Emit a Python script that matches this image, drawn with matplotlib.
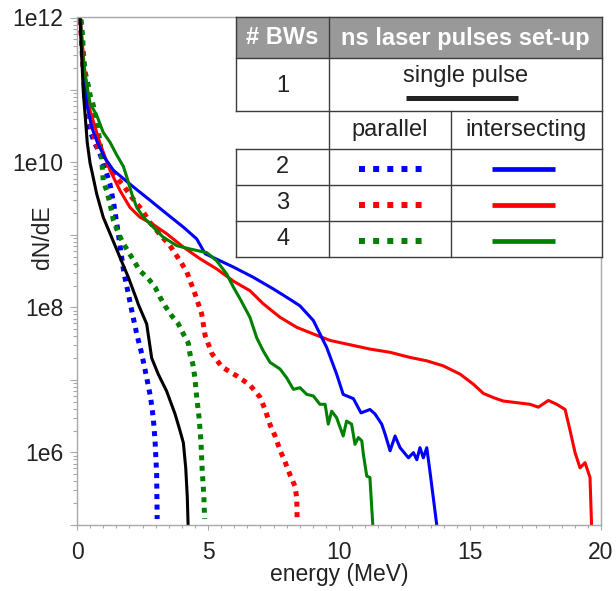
import math
import matplotlib
matplotlib.use("Agg")
import matplotlib.pyplot as plt
from matplotlib.ticker import FixedLocator, FuncFormatter, MultipleLocator, LogLocator, NullFormatter
from matplotlib.patches import Rectangle

plt.rcParams['font.family'] = ['Liberation Sans', 'DejaVu Sans']

# ---- spectra: energy (MeV), dN/dE ----
# 1 BW, single pulse
e_single = [0.10, 0.24, 0.31, 0.39, 0.50, 0.56, 0.75, 1.00, 1.32, 1.64, 1.96, 2.27, 2.34,
            2.66, 2.85, 3.10, 3.42, 3.74, 3.93, 4.06, 4.15, 4.21, 4.24]
n_single = [1.3e12, 9.4e10, 4.5e10, 1.9e10, 9.7e9, 7.8e9, 3.7e9, 1.76e9, 9.3e8, 4.9e8, 2.6e8,
            1.3e8, 1.1e8, 5.9e7, 2.0e7, 1.2e7, 7.0e6, 3.4e6, 2.0e6, 1.35e6, 6.1e5, 2.4e5, 1.0e5]

# 2 BWs, parallel
e_par2 = [0.10, 0.18, 0.22, 0.27, 0.31, 0.39, 0.52, 0.69, 0.85, 1.07, 1.26, 1.41, 1.56, 1.68,
          1.79, 1.95, 2.09, 2.28, 2.47, 2.66, 2.81, 2.91, 2.98, 3.04, 3.06]
n_par2 = [1.3e12, 5.7e11, 2.7e11, 1.46e11, 7.2e10, 3.6e10, 2.6e10, 1.8e10, 1.4e10, 8.3e9, 5.0e9,
          2.6e9, 1.15e9, 5.7e8, 3.0e8, 1.6e8, 9.0e7, 4.3e7, 2.3e7, 1.07e7, 5.7e6, 3.0e6, 1.44e6,
          5.0e5, 1.2e5]

# 3 BWs, parallel
e_par3 = [0.10, 0.19, 0.31, 0.56, 0.81, 1.13, 1.45, 1.77, 2.09, 2.47, 2.79, 3.17, 3.55, 3.93,
          4.19, 4.50, 4.76, 4.89, 5.15, 5.53, 6.10, 6.60, 6.98, 7.18, 7.37, 7.56, 7.75, 7.94,
          8.13, 8.32, 8.39, 8.40]
n_par3 = [1.3e12, 3.5e11, 8.0e10, 2.95e10, 1.47e10, 1.0e10, 6.6e9, 4.8e9, 3.3e9, 2.24e9, 1.48e9,
          1.01e9, 7.1e8, 4.4e8, 3.1e8, 1.55e8, 8.1e7, 4.1e7, 2.3e7, 1.51e7, 1.13e7, 8.5e6, 5.8e6,
          3.9e6, 2.4e6, 1.68e6, 1.07e6, 7.4e5, 4.9e5, 3.4e5, 2.3e5, 1.2e5]

# 4 BWs, parallel
e_par4 = [0.10, 0.15, 0.22, 0.24, 0.31, 0.43, 0.50, 0.62, 0.75, 0.88, 0.94, 1.00, 1.13, 1.26,
          1.39, 1.58, 1.77, 2.09, 2.40, 2.72, 2.98, 3.17, 3.36, 3.61, 3.87, 4.06, 4.25, 4.31,
          4.42, 4.50, 4.57, 4.66, 4.73, 4.78, 4.84, 4.87]
n_par4 = [1.3e12, 9.7e11, 5.2e11, 3.4e11, 1.78e11, 1.16e11, 8.5e10, 6.2e10, 3.6e10, 1.9e10,
          1.13e10, 5.6e9, 4.1e9, 2.7e9, 1.58e9, 1.05e9, 7.6e8, 4.9e8, 3.2e8, 2.5e8, 1.9e8, 1.38e8,
          1.05e8, 7.7e7, 5.9e7, 4.3e7, 3.2e7, 2.3e7, 1.66e7, 1.07e7, 5.7e6, 3.0e6, 1.44e6, 5.5e5,
          2.6e5, 1.2e5]

# 2 BWs, intersecting
e_int2 = [0.10, 0.23, 0.38, 0.57, 0.76, 1.07, 1.39, 2.15, 2.79, 3.42, 4.06, 4.57, 4.89, 5.46,
          5.97, 6.73, 7.49, 8.13, 8.51, 9.02, 9.53, 9.91, 10.16, 10.55, 10.84, 11.18, 11.37,
          11.63, 11.76, 11.95, 12.14, 12.33, 12.65, 12.84, 12.97, 13.09, 13.22, 13.35, 13.47,
          13.60, 13.73]
n_int2 = [1.3e12, 1.88e11, 6.2e10, 3.0e10, 1.96e10, 1.14e10, 7.8e9, 4.6e9, 3.0e9, 1.96e9, 1.28e9,
          8.8e8, 5.5e8, 4.4e8, 3.6e8, 2.6e8, 1.8e8, 1.29e8, 1.05e8, 6.6e7, 2.8e7, 1.2e7, 6.3e6,
          5.5e6, 3.5e6, 3.9e6, 3.4e6, 2.45e6, 1.78e6, 1.05e6, 1.68e6, 1.16e6, 8.4e5, 9.9e5, 7.9e5,
          1.16e6, 8.4e5, 1.16e6, 5.5e5, 2.35e5, 1.0e5]

# 3 BWs, intersecting
e_int3 = [0.10, 0.27, 0.50, 0.88, 1.26, 1.64, 2.02, 2.40, 2.91, 3.42, 4.06, 4.69, 5.33, 5.97,
          6.60, 7.11, 7.75, 8.39, 9.02, 9.66, 10.42, 11.18, 11.95, 12.71, 13.35, 13.98, 14.62,
          15.13, 15.51, 15.89, 16.27, 16.78, 17.29, 17.61, 17.99, 18.31, 18.63, 18.82, 19.01,
          19.20, 19.39, 19.58, 19.64]
n_int3 = [1.3e12, 2.2e11, 5.2e10, 1.82e10, 7.8e9, 4.1e9, 2.4e9, 1.76e9, 1.39e9, 1.04e9, 6.8e8,
          4.7e8, 3.4e8, 2.3e8, 1.7e8, 1.12e8, 7.3e7, 5.3e7, 4.3e7, 3.5e7, 3.05e7, 2.66e7, 2.4e7,
          2.04e7, 1.83e7, 1.56e7, 1.2e7, 8.7e6, 6.5e6, 5.7e6, 5.1e6, 4.85e6, 4.6e6, 4.2e6, 5.2e6,
          4.6e6, 3.9e6, 2.0e6, 9.9e5, 6.1e5, 7.2e5, 4.5e5, 1.0e5]

# 4 BWs, intersecting
e_int4 = [0.10, 0.27, 0.50, 0.75, 1.00, 1.26, 1.52, 1.77, 1.90, 2.09, 2.28, 2.53, 2.91, 3.29,
          3.81, 4.31, 4.95, 5.33, 5.71, 5.97, 6.22, 6.60, 6.86, 7.11, 7.37, 7.75, 8.00, 8.26,
          8.51, 8.77, 9.02, 9.27, 9.47, 9.59, 9.72, 9.91, 10.16, 10.29, 10.48, 10.61, 10.74,
          10.87, 10.93, 11.06, 11.18, 11.25, 11.29]
n_int4 = [1.3e12, 1.9e11, 6.5e10, 4.5e10, 2.6e10, 1.9e10, 1.26e10, 8.8e9, 6.3e9, 3.7e9, 2.4e9,
          1.76e9, 1.28e9, 9.3e8, 7.1e8, 6.4e8, 5.7e8, 4.4e8, 2.9e8, 1.9e8, 1.32e8, 7.3e7, 3.8e7,
          2.5e7, 1.74e7, 1.41e7, 1.07e7, 7.4e6, 7.8e6, 6.3e6, 6.0e6, 4.6e6, 4.6e6, 2.45e6, 3.7e6,
          3.0e6, 1.68e6, 2.7e6, 2.45e6, 1.29e6, 1.6e6, 1.44e6, 9.4e5, 4.7e5, 4.5e5, 1.7e5, 1.0e5]

BLUE, RED, GREEN = '#0000ff', '#ff0000', '#008000'
W, H = 616, 591

fig = plt.figure(figsize=(W / 100, H / 100), dpi=100)
ax = fig.add_axes([77 / W, 1 - 524.8 / H, 524 / W, 507.3 / H])

dot = dict(lw=3.6, ls=(0, (1, 1.1)), dash_capstyle='butt')
ax.plot(e_par2, n_par2, color=BLUE, **dot)
ax.plot(e_par3, n_par3, color=RED, **dot)
ax.plot(e_par4, n_par4, color=GREEN, **dot)
ax.plot(e_int3, n_int3, color=RED, lw=2.2)
ax.plot(e_int2, n_int2, color=BLUE, lw=2.2)
ax.plot(e_int4, n_int4, color=GREEN, lw=2.2)
ax.plot(e_single, n_single, color='black', lw=2.2)

ax.set_yscale('log')
ax.set_xlim(0, 20)
ax.set_ylim(1e5, 1e12)

ax.xaxis.set_major_locator(MultipleLocator(5))
ax.xaxis.set_minor_locator(MultipleLocator(0.5))
ax.yaxis.set_major_locator(FixedLocator([10.0 ** k for k in range(5, 13)]))
ax.yaxis.set_minor_locator(LogLocator(base=10, subs=range(2, 10)))
ax.yaxis.set_minor_formatter(NullFormatter())


def ylab(v, pos):
    k = int(round(math.log10(v)))
    return f"1e{k}" if k % 2 == 0 and k > 5 else ""


ax.yaxis.set_major_formatter(FuncFormatter(ylab))

gray = '#a8a8a8'
for s in ax.spines.values():
    s.set_color(gray)
    s.set_linewidth(1.0)
ax.tick_params(axis='y', which='major', length=5, width=0.8, color=gray, labelsize=16.5,
               labelcolor='#222222', pad=5)
ax.tick_params(axis='y', which='minor', length=3, width=0.8, color=gray)
ax.tick_params(axis='x', which='major', length=3.6, width=0.8, color=gray, labelsize=16.5,
               labelcolor='#222222', pad=8)
ax.tick_params(axis='x', which='minor', length=2.4, width=0.8, color=gray)

ax.set_xlabel('energy (MeV)', fontsize=16.5, color='#222222')
ax.set_ylabel('dN/dE', fontsize=16.5, color='#222222')
ax.xaxis.set_label_coords(0.5, -0.075)
ax.yaxis.set_label_coords(-0.044, 0.567)

# ---- legend table, drawn in figure pixel coordinates ----
ov = fig.add_axes([0, 0, 1, 1])
ov.set_xlim(0, W)
ov.set_ylim(H, 0)
ov.axis('off')

x0, xa, xb, x1 = 236, 329.3, 450.7, 601.7
rows = [17.3, 58.3, 110.7, 149.3, 185, 221, 257]

ov.add_patch(Rectangle((x0, rows[0]), x1 - x0, rows[-1] - rows[0], facecolor='white',
                       edgecolor='none'))
ov.add_patch(Rectangle((x0, rows[0]), x1 - x0, rows[1] - rows[0], facecolor='#999999',
                       edgecolor='none'))

lc = dict(color='#3c3c3c', lw=1.0)
for y in rows:
    ov.plot([x0, x1], [y, y], **lc)
ov.plot([x0, x0], [rows[0], rows[2]], **lc)
ov.plot([x0, x0], [rows[3], rows[6]], **lc)
ov.plot([x1, x1], [rows[0], rows[6]], **lc)
ov.plot([xa, xa], [rows[0], rows[6]], **lc)
ov.plot([xb, xb], [rows[2], rows[6]], **lc)

fs = 17
ov.text((x0 + xa) / 2, 38, '# BWs', color='white', fontsize=fs, fontweight='bold',
        ha='center', va='center')
ov.text((xa + x1) / 2, 38, 'ns laser pulses set-up', color='white', fontsize=fs,
        fontweight='bold', ha='center', va='center')
ov.text((x0 + xa) / 2, 86, '1', fontsize=fs, color='#222222', ha='center', va='center')
ov.text((xa + x1) / 2, 76, 'single pulse', fontsize=fs, color='#222222', ha='center',
        va='center')
ov.plot([405.7, 518], [97.7, 97.7], color='#222222', lw=3.6, solid_capstyle='butt')
ov.text((xa + xb) / 2, 130, 'parallel', fontsize=fs, color='#222222', ha='center',
        va='center')
ov.text((xb + x1) / 2, 130, 'intersecting', fontsize=fs, color='#222222', ha='center',
        va='center')

for label, col, y in [('2', BLUE, 167.5), ('3', RED, 203.5), ('4', GREEN, 239.5)]:
    ov.text((x0 + xa) / 2, y - 0.5, label, fontsize=fs, color='#222222', ha='center',
            va='center')
    ov.plot([359, 421.7], [y + 1.5, y + 1.5], color=col, lw=4.3, ls=(0, (1, 1.37)),
            dash_capstyle='butt')
    ov.plot([491.7, 555], [y + 1.5, y + 1.5], color=col, lw=3.4, solid_capstyle='butt')

fig.savefig('out.png', dpi=100)
